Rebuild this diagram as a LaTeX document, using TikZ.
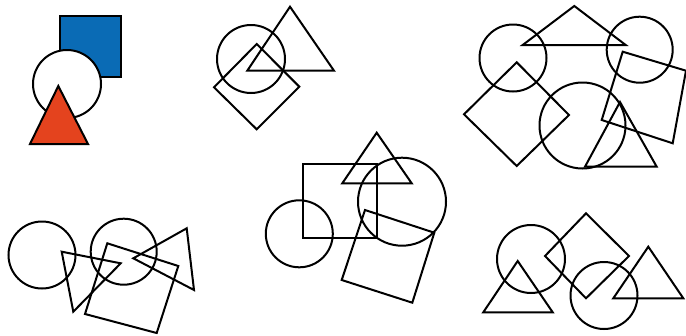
\documentclass[tikz,border=0pt]{standalone}
\usepackage{tikz}
\definecolor{shapeblue}{HTML}{0A6BB5}
\definecolor{shapered}{HTML}{E4431E}
\tikzset{
  outline/.style={
    draw=black,
    line width=2pt,
    line join=miter
  },
  bluefill/.style={outline, fill=shapeblue},
  redfill/.style={outline, fill=shapered},
  whitefill/.style={outline, fill=white}
}

\begin{document}
\begin{tikzpicture}[x=1pt,y=-1pt]
  \useasboundingbox (0,0) rectangle (686,335);

  % coloured group, top left
  \draw[bluefill] (60,16) rectangle (121,77);
  \draw[whitefill] (67,84) circle (34);
  \draw[redfill] (58.3,86) -- (88,144) -- (30,144) -- cycle;

  % group two
  \draw[outline] (251,59) circle (34);
  \draw[outline] (290,6.7) -- (334,70.7) -- (247.3,70.7) -- cycle;
  \draw[outline] (256.7,44) -- (299.3,86.7) -- (256.7,129.3) -- (214,87.3) -- cycle;

  % group three, top right
  \draw[outline] (513,58) circle (33.5);
  \draw[outline] (574.3,6) -- (625.7,45) -- (522.7,45) -- cycle;
  \draw[outline] (639.7,49.7) circle (33);
  \draw[outline] (516.7,62.3) -- (569,115) -- (516.7,166) -- (464,114.3) -- cycle;
  \draw[outline] (582.5,125.5) circle (43);
  \draw[outline] (622.7,51.7) -- (686,70.7) -- (672.7,143.3) -- (601.7,120) -- cycle;
  \draw[outline] (620,102) -- (656.7,166.7) -- (585,166.7) -- cycle;

  % group four, bottom left
  \draw[outline] (42,255) circle (33.5);
  \draw[outline] (123.7,251.7) circle (33);
  \draw[outline] (61.7,251.7) -- (120.7,263.3) -- (73.3,311.7) -- cycle;
  \draw[outline] (133.3,258.3) -- (186.7,228.3) -- (194,290) -- cycle;
  \draw[outline] (107.3,243.3) -- (178.3,266) -- (156.7,333) -- (85,314) -- cycle;

  % group five, centre
  \draw[outline] (303.3,164.3) -- (377.3,164.3) -- (377.3,238.3) -- (303.3,238.3) -- cycle;
  \draw[outline] (299.3,233.8) circle (33.5);
  \draw[outline] (376.7,132.7) -- (411.7,183.3) -- (342.3,183.3) -- cycle;
  \draw[outline] (402,201.7) circle (44);
  \draw[outline] (365,210) -- (434.3,232.7) -- (412.3,302.7) -- (341.7,280) -- cycle;

  % group six, bottom right
  \draw[outline] (531,259) circle (34);
  \draw[outline] (517.7,261) -- (552.7,312.3) -- (483.3,312.3) -- cycle;
  \draw[outline] (586,213.3) -- (629,256) -- (586,298.3) -- (545,256) -- cycle;
  \draw[outline] (604,295.5) circle (33.5);
  \draw[outline] (648.3,246.7) -- (683.3,298.3) -- (613.3,298.3) -- cycle;
\end{tikzpicture}
\end{document}
